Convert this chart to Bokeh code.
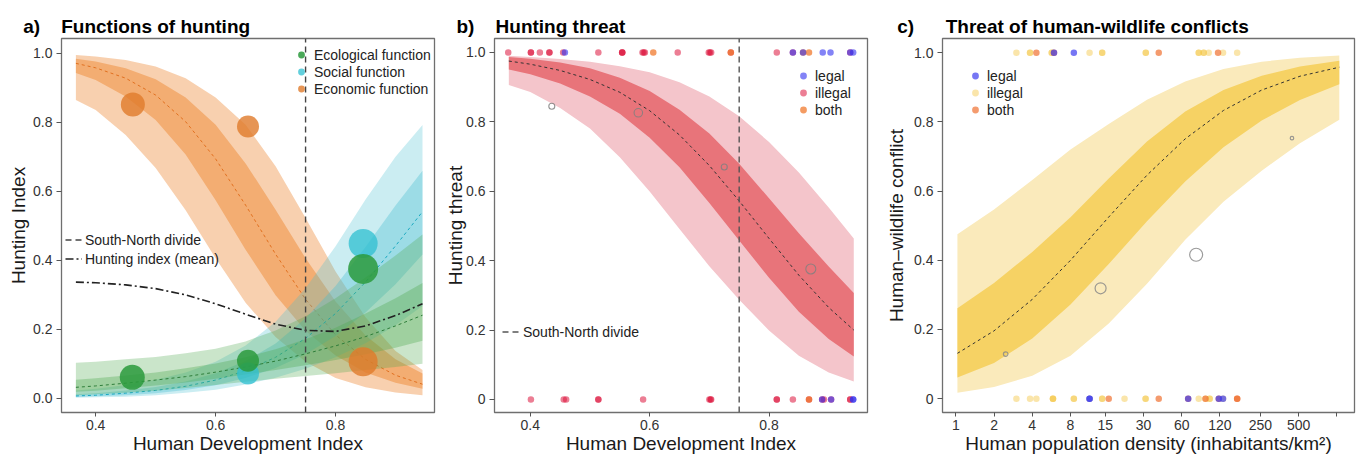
import math
from bokeh.plotting import figure
from bokeh.models import Range1d, Legend, LegendItem, FixedTicker, NumeralTickFormatter
from bokeh.layouts import row
from bokeh.embed import file_html
from bokeh.resources import INLINE

FONT = "Liberation Sans"

# ---------------- Panel a: functions of hunting ----------------
a_hdi = [0.367, 0.40, 0.45, 0.50, 0.55, 0.60, 0.65, 0.70, 0.75, 0.80, 0.85, 0.90, 0.945]
econ_mean = [0.971, 0.958, 0.928, 0.879, 0.802, 0.694, 0.560, 0.418, 0.287, 0.184, 0.113, 0.067, 0.041]
econ_in_hi = [0.984, 0.976, 0.957, 0.925, 0.872, 0.793, 0.681, 0.547, 0.406, 0.281, 0.182, 0.113, 0.072]
econ_in_lo = [0.943, 0.923, 0.875, 0.807, 0.707, 0.574, 0.431, 0.299, 0.196, 0.124, 0.075, 0.045, 0.028]
econ_out_hi = [0.995, 0.991, 0.981, 0.962, 0.928, 0.872, 0.793, 0.673, 0.523, 0.368, 0.235, 0.137, 0.082]
econ_out_lo = [0.865, 0.836, 0.763, 0.668, 0.545, 0.406, 0.277, 0.178, 0.106, 0.059, 0.032, 0.017, 0.009]

eco_mean = [0.032, 0.036, 0.044, 0.053, 0.063, 0.076, 0.091, 0.108, 0.129, 0.152, 0.179, 0.210, 0.241]
eco_in_hi = [0.054, 0.058, 0.066, 0.075, 0.087, 0.101, 0.119, 0.142, 0.171, 0.205, 0.246, 0.290, 0.334]
eco_in_lo = [0.019, 0.022, 0.029, 0.037, 0.046, 0.057, 0.069, 0.082, 0.096, 0.111, 0.128, 0.147, 0.167]
eco_out_hi = [0.103, 0.106, 0.113, 0.120, 0.131, 0.144, 0.165, 0.197, 0.238, 0.290, 0.350, 0.414, 0.475]
eco_out_lo = [0.009, 0.012, 0.016, 0.022, 0.030, 0.039, 0.048, 0.057, 0.065, 0.073, 0.082, 0.091, 0.100]

soc_mean = [0.007, 0.009, 0.015, 0.023, 0.035, 0.053, 0.080, 0.119, 0.174, 0.246, 0.337, 0.442, 0.541]
soc_in_hi = [0.012, 0.015, 0.023, 0.033, 0.049, 0.073, 0.108, 0.159, 0.232, 0.326, 0.439, 0.559, 0.660]
soc_in_lo = [0.004, 0.006, 0.009, 0.015, 0.024, 0.038, 0.059, 0.088, 0.128, 0.181, 0.249, 0.331, 0.417]
soc_out_hi = [0.023, 0.028, 0.039, 0.054, 0.075, 0.106, 0.153, 0.222, 0.319, 0.441, 0.576, 0.700, 0.792]
soc_out_lo = [0.002, 0.003, 0.005, 0.009, 0.016, 0.025, 0.040, 0.060, 0.086, 0.119, 0.160, 0.212, 0.268]

hunting_index_mean = [0.337, 0.335, 0.329, 0.318, 0.300, 0.274, 0.244, 0.215, 0.197, 0.194, 0.210, 0.240, 0.274]

econ_bin_x = [0.462, 0.654, 0.846]
econ_bin_y = [0.852, 0.788, 0.106]
eco_bin_x = [0.461, 0.654, 0.846]
eco_bin_y = [0.061, 0.109, 0.375]
soc_bin_x = [0.654, 0.846]
soc_bin_y = [0.072, 0.449]

divide_hdi = 0.75

# ---------------- Panel b: hunting threat ----------------
b_hdi = [0.364, 0.40, 0.45, 0.50, 0.55, 0.60, 0.65, 0.70, 0.75, 0.80, 0.85, 0.90, 0.942]
threat_mean = [0.975, 0.966, 0.948, 0.922, 0.885, 0.832, 0.762, 0.674, 0.572, 0.464, 0.358, 0.265, 0.200]
threat_in_hi = [0.987, 0.982, 0.971, 0.954, 0.927, 0.889, 0.835, 0.766, 0.679, 0.580, 0.479, 0.383, 0.307]
threat_in_lo = [0.951, 0.937, 0.910, 0.873, 0.823, 0.754, 0.669, 0.566, 0.458, 0.351, 0.253, 0.174, 0.124]
threat_out_hi = [0.990, 0.987, 0.981, 0.973, 0.960, 0.943, 0.914, 0.873, 0.816, 0.742, 0.654, 0.553, 0.464]
threat_out_lo = [0.906, 0.886, 0.840, 0.781, 0.698, 0.599, 0.491, 0.384, 0.287, 0.199, 0.126, 0.078, 0.052]

threat_bin_x = [0.436, 0.581, 0.725, 0.870]
threat_bin_y = [0.845, 0.826, 0.670, 0.376]

b_yes_hdi = [0.363, 0.401, 0.401, 0.416, 0.432, 0.432, 0.455, 0.458, 0.514, 0.554, 0.554, 0.554,
             0.588, 0.590, 0.592, 0.606, 0.647, 0.699, 0.701, 0.703, 0.736, 0.736, 0.813, 0.840,
             0.840, 0.857, 0.857, 0.867, 0.890, 0.903, 0.936, 0.936, 0.941]
b_yes_type = ["illegal", "illegal", "illegal", "illegal", "illegal", "illegal", "illegal", "legal",
              "illegal", "illegal", "illegal", "illegal", "illegal", "illegal", "illegal", "both",
              "illegal", "illegal", "illegal", "illegal", "both", "illegal", "illegal", "illegal",
              "legal", "both", "legal", "both", "legal", "legal", "legal", "illegal", "legal"]
b_no_hdi = [0.401, 0.456, 0.460, 0.514, 0.514, 0.589, 0.700, 0.702, 0.703, 0.813, 0.813, 0.840,
            0.867, 0.867, 0.889, 0.889, 0.892, 0.904, 0.904, 0.936, 0.936, 0.941, 0.941]
b_no_type = ["illegal", "illegal", "illegal", "illegal", "illegal", "illegal", "illegal", "illegal",
             "illegal", "illegal", "illegal", "illegal", "both", "illegal", "illegal", "legal",
             "illegal", "legal", "illegal", "illegal", "illegal", "legal", "legal"]

# ---------------- Panel c: human-wildlife conflicts ----------------
c_density = [1.03, 2, 4, 8, 16, 32, 64, 128, 256, 512, 1045]
conflict_mean = [0.131, 0.196, 0.287, 0.400, 0.525, 0.646, 0.751, 0.833, 0.892, 0.932, 0.958]
conflict_in_hi = [0.261, 0.334, 0.424, 0.524, 0.636, 0.743, 0.830, 0.892, 0.933, 0.960, 0.977]
conflict_in_lo = [0.061, 0.103, 0.174, 0.272, 0.389, 0.513, 0.628, 0.727, 0.804, 0.863, 0.909]
conflict_out_hi = [0.475, 0.547, 0.632, 0.720, 0.794, 0.864, 0.917, 0.953, 0.974, 0.985, 0.992]
conflict_out_lo = [0.017, 0.034, 0.066, 0.124, 0.217, 0.332, 0.459, 0.569, 0.659, 0.738, 0.806]

conflict_bin_x = [2.47, 13.8, 78, 443]
conflict_bin_y = [0.129, 0.319, 0.416, 0.753]

c_yes_density = [3.0, 3.84, 3.84, 4.31, 5.69, 5.69, 5.93, 5.93, 8.5, 11.3, 14.2, 14.2, 31.3, 31.3,
                 39.6, 81.7, 81.7, 89.4, 89.4, 97.9, 116, 127, 164]
c_yes_type = ["illegal", "illegal", "illegal", "both", "illegal", "illegal", "both", "legal", "legal",
              "illegal", "illegal", "illegal", "illegal", "illegal", "both", "illegal", "illegal",
              "illegal", "illegal", "illegal", "both", "illegal", "illegal"]
c_no_density = [3.0, 3.84, 4.31, 5.82, 5.82, 5.82, 8.5, 8.5, 11.3, 11.3, 11.3, 14.2, 14.2, 16, 21.3,
                31.2, 31.2, 39.6, 67.5, 67.5, 81.7, 92.4, 92.4, 99.7, 99.7, 117.6, 117.6, 127, 127,
                164, 164]
c_no_type = ["illegal", "illegal", "illegal", "illegal", "illegal", "illegal", "illegal", "illegal",
             "legal", "legal", "illegal", "illegal", "illegal", "both", "illegal", "illegal", "illegal",
             "both", "both", "legal", "illegal", "both", "illegal", "illegal", "illegal", "both",
             "legal", "legal", "illegal", "both", "both"]

# ---------------- styling config ----------------
A_XR, A_YR = (0.343, 0.965), (-0.041, 1.043)
B_XR, B_YR = (0.340, 0.965), (-0.0375, 1.040)
C_XR, C_YR = (0.786, 1376.0), (-0.040, 1.041)
H = 456
NB = "\u00a0"


def base_fig(width, borders, xr, yr, title, title_offset, xlabel, ylabel, ylabel_standoff,
             x_type="linear"):
    left, right, top, bottom = borders
    p = figure(width=width, height=H, x_range=Range1d(*xr), y_range=Range1d(*yr),
               x_axis_type=x_type, title=title, output_backend="svg", toolbar_location=None,
               min_border_left=left, min_border_right=right, min_border_top=top,
               min_border_bottom=bottom)
    p.title.text_font = FONT
    p.title.text_font_size = "19px"
    p.title.text_font_style = "bold"
    p.title.text_color = "#000000"
    p.title.align = "left"
    p.title.offset = title_offset
    p.title.standoff = 4
    p.outline_line_color = "#6f6f6f"
    p.outline_line_width = 1.3
    p.xgrid.visible = False
    p.ygrid.visible = False
    for axes in (p.xaxis, p.yaxis):
        axes.axis_line_color = None
        axes.major_tick_line_color = "#555555"
        axes.major_tick_line_width = 1
        axes.major_tick_in = 0
        axes.minor_tick_line_color = None
        axes.major_label_text_font = FONT
        axes.major_label_text_font_size = "14px"
        axes.major_label_text_color = "#333333"
        axes.axis_label_text_font = FONT
        axes.axis_label_text_font_size = "19px"
        axes.axis_label_text_font_style = "normal"
        axes.axis_label_text_color = "#1a1a1a"
    p.xaxis.major_tick_out = 4
    p.xaxis.major_label_standoff = 3
    p.yaxis.major_tick_out = 5
    p.yaxis.major_label_standoff = 4
    p.xaxis.axis_label = xlabel
    p.xaxis.axis_label_standoff = 0
    p.yaxis.axis_label = ylabel
    p.yaxis.axis_label_standoff = ylabel_standoff
    return p


def legend(p, items, loc, gw, gh, standoff):
    lg = Legend(items=[LegendItem(label=t, renderers=[r]) for t, r in items], location=loc,
                orientation="vertical", glyph_width=gw, glyph_height=gh, label_height=gh,
                label_width=10, spacing=0, padding=0, margin=0, label_standoff=standoff,
                label_text_font=FONT, label_text_font_size="14px", label_text_color="#222222",
                background_fill_alpha=0, border_line_alpha=0)
    p.add_layout(lg)


def pick(xs, types, t):
    return [x for x, tt in zip(xs, types) if tt == t]


# ================= Panel a =================
pa = base_fig(440, (61, 6, 38, 10), A_XR, A_YR, "a)" + NB * 4 + "Functions of hunting", -38.3,
              "Human Development Index", "Hunting Index", 1)
pa.xaxis.ticker = FixedTicker(ticks=[0.4, 0.6, 0.8])
pa.yaxis.ticker = FixedTicker(ticks=[0.0, 0.2, 0.4, 0.6, 0.8, 1.0])
pa.yaxis.formatter = NumeralTickFormatter(format="0.0")

ORANGE, CYAN, GREEN = "#ee9040", "#46bed2", "#50aa50"
pa.varea(x=a_hdi, y1=econ_out_lo, y2=econ_out_hi, fill_color=ORANGE, fill_alpha=0.42)
pa.varea(x=a_hdi, y1=econ_in_lo, y2=econ_in_hi, fill_color=ORANGE, fill_alpha=0.55)
pa.line(a_hdi, econ_mean, line_color="#e07020", line_width=1, line_dash="3 3")
pa.varea(x=a_hdi, y1=soc_out_lo, y2=soc_out_hi, fill_color=CYAN, fill_alpha=0.28)
pa.varea(x=a_hdi, y1=soc_in_lo, y2=soc_in_hi, fill_color=CYAN, fill_alpha=0.35)
pa.line(a_hdi, soc_mean, line_color="#1aa8c0", line_width=1, line_dash="3 3")
pa.varea(x=a_hdi, y1=eco_out_lo, y2=eco_out_hi, fill_color=GREEN, fill_alpha=0.30)
pa.varea(x=a_hdi, y1=eco_in_lo, y2=eco_in_hi, fill_color=GREEN, fill_alpha=0.35)
pa.line(a_hdi, eco_mean, line_color="#2e7d3a", line_width=1, line_dash="3 3")

r_hmean = pa.line(a_hdi, hunting_index_mean, line_color="#222222", line_width=1.6,
                  line_dash="8 3 2 3")
r_div_a = pa.line([divide_hdi, divide_hdi], [A_YR[0], A_YR[1]], line_color="#444444",
                  line_width=1.4, line_dash="6 4")

r_soc = pa.scatter(soc_bin_x, soc_bin_y, size=[22, 29], fill_color="#2ebfd0", fill_alpha=0.75,
                   line_color=None)
r_eco = pa.scatter(eco_bin_x, eco_bin_y, size=[25, 22, 30], fill_color="#2a9a3c",
                   fill_alpha=0.85, line_color=None)
r_econ = pa.scatter(econ_bin_x, econ_bin_y, size=[24, 22, 29], fill_color="#e07a2a",
                    fill_alpha=0.8, line_color=None)

legend(pa, [("Ecological function", r_eco), ("Social function", r_soc),
            ("Economic function", r_econ)], (230, 315), 20, 17, 3)
legend(pa, [("South-North divide", r_div_a), ("Hunting index (mean)", r_hmean)],
       (4, 144), 17, 19, 3)

# ================= Panel b =================
pb = base_fig(442, (54, 15, 38, 10), B_XR, B_YR, "b)" + NB * 4 + "Hunting threat", -38,
              "Human Development Index", "Hunting threat", -3)
pb.xaxis.ticker = FixedTicker(ticks=[0.4, 0.6, 0.8])
pb.yaxis.ticker = FixedTicker(ticks=[0.0, 0.2, 0.4, 0.6, 0.8, 1.0])
pb.yaxis.formatter = NumeralTickFormatter(format="0.0")
pb.yaxis.major_label_overrides = {0: "0"}

pb.varea(x=b_hdi, y1=threat_out_lo, y2=threat_out_hi, fill_color="#f4c5cb")
pb.varea(x=b_hdi, y1=threat_in_lo, y2=threat_in_hi, fill_color="#e8747a")
pb.line(b_hdi, threat_mean, line_color="#333333", line_width=1, line_dash="3 3")

r_div_b = pb.line([divide_hdi, divide_hdi], [B_YR[0], B_YR[1]], line_color="#555555",
                  line_width=1.4, line_dash="6 4")

B_COLORS = {"illegal": ("#dc143c", 0.55), "both": ("#f07020", 0.7), "legal": ("#3030f0", 0.6)}
b_rend = {}
for t in ["illegal", "both", "legal"]:
    xs1 = pick(b_yes_hdi, b_yes_type, t)
    xs0 = pick(b_no_hdi, b_no_type, t)
    col, al = B_COLORS[t]
    b_rend[t] = pb.scatter(xs1 + xs0, [1] * len(xs1) + [0] * len(xs0), size=6.5,
                           fill_color=col, fill_alpha=al, line_color=None)

pb.scatter(threat_bin_x, threat_bin_y, size=[6, 8.5, 6, 10], fill_color=None,
           line_color="#808080", line_alpha=0.85, line_width=1.1)

legend(pb, [("legal", b_rend["legal"]), ("illegal", b_rend["illegal"]), ("both", b_rend["both"])],
       (299, 294), 20, 17, 2)
legend(pb, [("South-North divide", r_div_b)], (8, 71), 17, 19, 4)

# ================= Panel c =================
pc = base_fig(475, (60, 3, 38, 10), C_XR, C_YR, "c)" + NB * 6 + "Threat of human-wildlife conflicts",
              -45.3, "Human population density (inhabitants/km²)", "Human–wildlife conflict", 4,
              x_type="log")
pc.xaxis.ticker = FixedTicker(ticks=[1, 2, 4, 8, 15, 30, 60, 120, 250, 500], minor_ticks=[1000])
pc.xaxis.formatter = NumeralTickFormatter(format="0")
pc.xaxis.minor_tick_line_color = "#555555"
pc.xaxis.minor_tick_out = 4
pc.xaxis.minor_tick_in = 0
pc.yaxis.ticker = FixedTicker(ticks=[0.0, 0.2, 0.4, 0.6, 0.8, 1.0])
pc.yaxis.formatter = NumeralTickFormatter(format="0.0")
pc.yaxis.major_label_overrides = {0: "0"}

pc.varea(x=c_density, y1=conflict_out_lo, y2=conflict_out_hi, fill_color="#faeabb")
pc.varea(x=c_density, y1=conflict_in_lo, y2=conflict_in_hi, fill_color="#f6d264")
pc.line(c_density, conflict_mean, line_color="#333333", line_width=1, line_dash="3 3")

C_COLORS = {"illegal": ("#f5c542", 0.45), "both": ("#f07030", 0.7), "legal": ("#3c3cf0", 0.7)}
c_rend = {}
for t in ["illegal", "both", "legal"]:
    xs1 = pick(c_yes_density, c_yes_type, t)
    xs0 = pick(c_no_density, c_no_type, t)
    col, al = C_COLORS[t]
    c_rend[t] = pc.scatter(xs1 + xs0, [1] * len(xs1) + [0] * len(xs0), size=6.5,
                           fill_color=col, fill_alpha=al, line_color=None)

pc.scatter(conflict_bin_x, conflict_bin_y, size=[4.5, 11, 13, 3.5], fill_color=None,
           line_color="#8a8a8a", line_alpha=0.85, line_width=1.2)

legend(pc, [("legal", c_rend["legal"]), ("illegal", c_rend["illegal"]), ("both", c_rend["both"])],
       (23, 294), 20, 17, 2)

layout = row(pa, pb, pc)
open("out.html", "w").write(file_html(layout, INLINE))
